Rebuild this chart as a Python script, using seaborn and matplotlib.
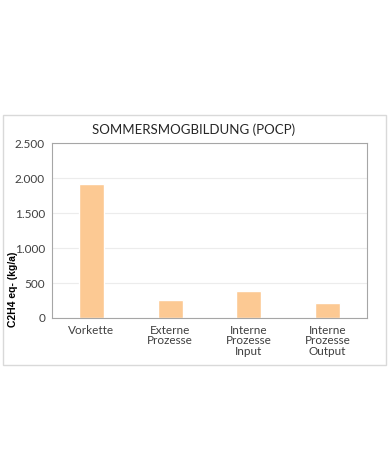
import matplotlib
matplotlib.use("Agg")
import matplotlib.pyplot as plt
import seaborn as sns
import pandas as pd
from matplotlib.patches import Rectangle
from matplotlib.ticker import FuncFormatter

categories = ["Vorkette", "Externe\nProzesse", "Interne\nProzesse\nInput", "Interne\nProzesse\nOutput"]
values = [1920, 260, 390, 210]
yticks = [0, 500, 1000, 1500, 2000, 2500]

sns.set_theme(style="white")
plt.rcParams['font.family'] = ['Lato', 'DejaVu Sans']

W, H = 389, 467
fig = plt.figure(figsize=(W/100, H/100), dpi=100)
# outer chart border
fig.patches.append(Rectangle((3/W, 1-365/H), 383/W, 250/H, transform=fig.transFigure,
                             fill=False, edgecolor="#d9d9d9", linewidth=1))
ax = fig.add_axes([52/W, 1-318/H, 315/W, 175/H])
df = pd.DataFrame({"cat": categories, "val": values})
sns.barplot(data=df, x="cat", y="val", color="#fcc993", width=0.32, saturation=1, ax=ax)
ax.set_ylim(0, 2500)
ax.set_yticks(yticks)
ax.yaxis.set_major_formatter(FuncFormatter(lambda v, p: f"{int(v):,}".replace(",", ".")))
ax.yaxis.grid(True, color="#ececec", linewidth=0.8)
ax.set_axisbelow(True)
for s in ax.spines.values():
    s.set_color("#a6a6a6")
    s.set_linewidth(0.8)
ax.tick_params(axis="both", length=0, labelsize=8.5, colors="#404040", pad=5)
ax.set_xlabel("")
ax.set_ylabel("")
fig.text(13/W, 1-289/H, "C2H4 eq- (kg/a)", rotation=90, ha="center", va="center",
         fontsize=7.5, fontweight="bold", color="#000000", family=["Liberation Sans"])
fig.text(194/W, 1-130/H, "SOMMERSMOGBILDUNG (POCP)", ha="center", va="center",
         fontsize=9.5, color="#262626")
for lbl in ax.get_xticklabels():
    lbl.set_linespacing(0.95)
fig.savefig("out.png", dpi=100)
